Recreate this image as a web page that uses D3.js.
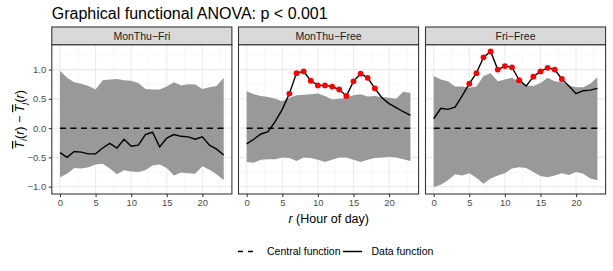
<!DOCTYPE html>
<html><head><meta charset="utf-8">
<script src="https://cdn.jsdelivr.net/npm/d3@7"></script>
<style>body{margin:0;background:#fff}svg{display:block}text{font-family:"Liberation Sans",Arial,sans-serif}</style>
</head><body>
<script>
const hours = d3.range(0, 24);
const panels = ["MonThu\u2212Fri", "MonThu\u2212Free", "Fri\u2212Free"];
const titleText = "Graphical functional ANOVA: p < 0.001";
const xTicks = [0, 5, 10, 15, 20];
const yTicks = [-1, -0.5, 0, 0.5, 1];
const yTickLabels = ["\u22121.0", "\u22120.5", "0.0", "0.5", "1.0"];

const dataMonThuFri = [-0.42,-0.50,-0.40,-0.41,-0.44,-0.44,-0.34,-0.26,-0.34,-0.19,-0.31,-0.29,-0.11,-0.07,-0.32,-0.17,-0.11,-0.14,-0.15,-0.19,-0.15,-0.29,-0.36,-0.46];
const upperMonThuFri = [0.98,0.86,0.785,0.76,0.72,0.66,0.82,0.83,0.84,0.82,0.81,0.77,0.67,0.66,0.66,0.71,0.785,0.73,0.75,0.745,0.67,0.70,0.72,0.86];
const lowerMonThuFri = [-0.84,-0.78,-0.68,-0.69,-0.67,-0.62,-0.61,-0.69,-0.79,-0.72,-0.74,-0.75,-0.72,-0.64,-0.62,-0.68,-0.81,-0.76,-0.77,-0.78,-0.65,-0.71,-0.79,-0.89];

const dataMonThuFree = [-0.27,-0.19,-0.10,-0.06,0.11,0.32,0.59,0.94,0.97,0.81,0.73,0.73,0.71,0.66,0.55,0.80,0.93,0.86,0.68,0.52,0.42,0.35,0.28,0.22];
const upperMonThuFree = [0.63,0.58,0.55,0.53,0.50,0.46,0.52,0.56,0.57,0.58,0.59,0.55,0.49,0.50,0.52,0.56,0.58,0.54,0.55,0.53,0.52,0.50,0.62,0.60];
const lowerMonThuFree = [-0.58,-0.59,-0.54,-0.53,-0.53,-0.50,-0.51,-0.56,-0.50,-0.51,-0.54,-0.58,-0.54,-0.50,-0.50,-0.54,-0.58,-0.54,-0.51,-0.50,-0.49,-0.50,-0.53,-0.56];

const dataFriFree = [0.16,0.34,0.32,0.36,0.55,0.76,0.94,1.21,1.31,1.00,1.06,1.04,0.82,0.72,0.88,0.97,1.03,1.00,0.84,0.72,0.59,0.64,0.65,0.68];
const upperFriFree = [0.89,0.83,0.80,0.71,0.71,0.69,0.71,0.89,0.94,0.80,0.83,0.86,0.79,0.73,0.72,0.77,0.86,0.80,0.79,0.73,0.70,0.70,0.76,0.87];
const lowerFriFree = [-1.01,-0.97,-0.89,-0.79,-0.81,-0.77,-0.85,-0.95,-0.86,-0.81,-0.77,-0.69,-0.67,-0.68,-0.75,-0.82,-0.84,-0.81,-0.77,-0.80,-0.75,-0.78,-0.86,-0.89];

const series = [
  {name: panels[0], data: dataMonThuFri, upper: upperMonThuFri, lower: lowerMonThuFri},
  {name: panels[1], data: dataMonThuFree, upper: upperMonThuFree, lower: lowerMonThuFree},
  {name: panels[2], data: dataFriFree, upper: upperFriFree, lower: lowerFriFree}
];

const W = 613, H = 271;
const svg = d3.select("body").append("svg").attr("width", W).attr("height", H);

const panelLefts = [51.8, 238.5, 425.5];
const panelW = 180.1;
const pTop = 44.7, pBot = 194, stripTop = 27;

const allVals = series.flatMap(s => s.data.concat(s.upper, s.lower));
const ymin = d3.min(allVals), ymax = d3.max(allVals), ys = ymax - ymin;
const y = d3.scaleLinear().domain([ymin - 0.05*ys, ymax + 0.05*ys]).range([pBot, pTop]);

svg.append("text").attr("x", 51.8).attr("y", 18.5).attr("font-size", 16).attr("fill", "#000").text(titleText);

series.forEach((s, i) => {
  const x0 = panelLefts[i];
  const x = d3.scaleLinear().domain([-1.15, 24.15]).range([x0, x0 + panelW]);
  const g = svg.append("g");
  const minorX = [-2.5, 2.5, 7.5, 12.5, 17.5, 22.5].filter(v => v > -1.15 && v < 24.15);
  const minorY = [-0.75, -0.25, 0.25, 0.75, 1.25].filter(v => v > y.domain()[0] && v < y.domain()[1]);
  g.selectAll(".mx").data(minorX).join("line").attr("x1", d => x(d)).attr("x2", d => x(d)).attr("y1", pTop).attr("y2", pBot).attr("stroke", "#f2f2f2").attr("stroke-width", 0.55);
  g.selectAll(".my").data(minorY).join("line").attr("y1", d => y(d)).attr("y2", d => y(d)).attr("x1", x0).attr("x2", x0 + panelW).attr("stroke", "#f2f2f2").attr("stroke-width", 0.55);
  g.selectAll(".Mx").data(xTicks).join("line").attr("x1", d => x(d)).attr("x2", d => x(d)).attr("y1", pTop).attr("y2", pBot).attr("stroke", "#ebebeb").attr("stroke-width", 1.07);
  g.selectAll(".My").data(yTicks).join("line").attr("y1", d => y(d)).attr("y2", d => y(d)).attr("x1", x0).attr("x2", x0 + panelW).attr("stroke", "#ebebeb").attr("stroke-width", 1.07);
  const area = d3.area().x((d, k) => x(hours[k])).y0((d, k) => y(s.lower[k])).y1((d, k) => y(s.upper[k]));
  g.append("path").datum(s.upper).attr("d", area).attr("fill", "#999999");
  g.append("line").attr("x1", x(0)).attr("x2", x(23)).attr("y1", y(0)).attr("y2", y(0)).attr("stroke", "#000").attr("stroke-width", 1.5).attr("stroke-dasharray", "6,4.5");
  const line = d3.line().x((d, k) => x(hours[k])).y(d => y(d));
  g.append("path").datum(s.data).attr("d", line).attr("fill", "none").attr("stroke", "#000").attr("stroke-width", 1.4);
  const out = hours.filter(k => s.data[k] > s.upper[k] || s.data[k] < s.lower[k]);
  g.selectAll(".pt").data(out).join("circle").attr("cx", k => x(k)).attr("cy", k => y(s.data[k])).attr("r", 2.9).attr("fill", "#ff0000");
  g.append("rect").attr("x", x0).attr("y", pTop).attr("width", panelW).attr("height", pBot - pTop).attr("fill", "none").attr("stroke", "#333").attr("stroke-width", 1.07);
  g.append("rect").attr("x", x0).attr("y", stripTop).attr("width", panelW).attr("height", pTop - stripTop).attr("fill", "#d9d9d9").attr("stroke", "#333").attr("stroke-width", 1.07);
  g.append("text").attr("x", x0 + panelW/2).attr("y", (stripTop + pTop)/2 + 3.7).attr("text-anchor", "middle").attr("font-size", 10.5).attr("fill", "#1a1a1a").text(s.name);
  const xa = svg.append("g").attr("transform", `translate(0,${pBot})`).call(d3.axisBottom(x).tickValues(xTicks).tickSize(3).tickPadding(2.5));
  xa.select(".domain").remove();
  xa.selectAll("line").attr("stroke", "#333").attr("stroke-width", 1.07);
  xa.selectAll("text").attr("fill", "#4d4d4d").attr("font-size", 9.5).attr("font-family", "Liberation Sans, Arial, sans-serif");
});

const ya = svg.append("g").attr("transform", `translate(${panelLefts[0]},0)`).call(d3.axisLeft(y).tickValues(yTicks).tickFormat((d, i) => yTickLabels[i]).tickSize(3).tickPadding(2.5));
ya.select(".domain").remove();
ya.selectAll("line").attr("stroke", "#333").attr("stroke-width", 1.07);
ya.selectAll("text").attr("fill", "#4d4d4d").attr("font-size", 9.5).attr("font-family", "Liberation Sans, Arial, sans-serif");

const xt = svg.append("text").attr("x", (panelLefts[0] + panelLefts[2] + panelW)/2).attr("y", 222.5).attr("text-anchor", "middle").attr("font-size", 12.5);
xt.append("tspan").attr("font-style", "italic").text("r");
xt.append("tspan").text(" (Hour of day)");

const yt = svg.append("text").attr("transform", `translate(24,${(pTop + pBot)/2}) rotate(-90)`).attr("text-anchor", "middle").attr("font-size", 12.5);
yt.append("tspan").attr("font-style", "italic").attr("text-decoration", "overline").text("T");
yt.append("tspan").attr("font-style", "italic").attr("font-size", 9).attr("dy", 2.5).text("i");
yt.append("tspan").attr("dy", -2.5).text("(");
yt.append("tspan").attr("font-style", "italic").text("r");
yt.append("tspan").text(") \u2212 ");
yt.append("tspan").attr("font-style", "italic").attr("text-decoration", "overline").text("T");
yt.append("tspan").attr("font-style", "italic").attr("font-size", 9).attr("dy", 2.5).text("j");
yt.append("tspan").attr("dy", -2.5).text("(");
yt.append("tspan").attr("font-style", "italic").text("r");
yt.append("tspan").text(")");

const legY = 251.5;
const leg = svg.append("g");
leg.append("line").attr("x1", 238).attr("x2", 255).attr("y1", legY).attr("y2", legY).attr("stroke", "#000").attr("stroke-width", 1.5).attr("stroke-dasharray", "5,5");
leg.append("text").attr("x", 267).attr("y", legY + 3.7).attr("font-size", 10.5).text("Central function");
leg.append("line").attr("x1", 343).attr("x2", 362).attr("y1", legY).attr("y2", legY).attr("stroke", "#000").attr("stroke-width", 1.5);
leg.append("text").attr("x", 371.5).attr("y", legY + 3.7).attr("font-size", 10.5).text("Data function");
</script>
</body></html>
